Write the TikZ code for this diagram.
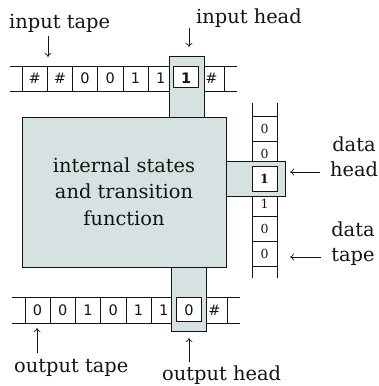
\documentclass[tikz,border=0pt]{standalone}
\usepackage{fontspec}
\setmainfont{DejaVu Serif}
\newfontfamily\cellfont{DejaVu Sans}
\usetikzlibrary{arrows.meta}
\definecolor{headgray}{RGB}{214,226,226}
\definecolor{ink}{RGB}{20,20,20}
\tikzset{
  tapeline/.style={draw=ink, line width=0.8pt},
  headbox/.style={draw=ink, fill=headgray, line width=0.8pt},
  cellbox/.style={draw=ink, fill=white, line width=0.8pt},
  lbl/.style={font=\fontsize{19.4}{25}\selectfont, inner sep=0pt, text=ink},
  celltext/.style={font=\cellfont\fontsize{14.5}{15}\selectfont, inner sep=0pt, text=ink},
  datatext/.style={font=\fontsize{12.5}{13}\selectfont, inner sep=0pt, text=ink},
  pointer/.style={draw=ink, line width=0.7pt, -{To[length=4pt,width=7pt]}}
}
\begin{document}
\begin{tikzpicture}[x=1pt,y=-1pt]
\useasboundingbox[fill=white] (0,0) rectangle (378,386);

% ---------- input tape ----------
\draw[tapeline] (10,66) -- (237,66) (10,91) -- (237,91);
\foreach \k in {0,...,8} \draw[tapeline] ({22+25.25*\k},66) -- ({22+25.25*\k},91);
\path[headbox] (169,56) rectangle (204,117);
\path[cellbox] (173.5,66) rectangle (198.75,87);
\foreach \t [count=\k from 0] in {\#,\#,0,0,1,1,{\bfseries 1},\#}
  \node[celltext] (in\k) at ({34.6+25.25*\k},78.5) {\t};

% ---------- main box ----------
\node[headbox, minimum width=204pt, minimum height=150pt, inner sep=0pt, anchor=north west] (fsm) at (22,117) {};
\node[lbl, font=\fontsize{19.4}{26.5}\selectfont, align=center, anchor=base] (fsmtext) at (124,225) {internal states\\and transition\\function};

% ---------- data tape ----------
\draw[tapeline] (252,103) -- (252,278) (277,103) -- (277,278);
\foreach \k in {0,...,6} \draw[tapeline] (252,{116+25*\k}) -- (277,{116+25*\k});
\foreach \t [count=\k from 0] in {0,0,{\bfseries 1},1,0,0}
  \node[datatext] (dt\k) at (264.5,{128.5+25*\k}) {\t};
\path[headbox] (226,161.7) rectangle (285,196.7);
\path[cellbox] (252,166) rectangle (277,191);
\node[datatext] (dhead) at (264.5,178.5) {\bfseries 1};

% ---------- output tape ----------
\draw[tapeline] (12,297) -- (240,297) (12,323) -- (240,323);
\foreach \k in {0,...,8} \draw[tapeline] ({25+25.25*\k},297) -- ({25+25.25*\k},323);
\path[headbox] (171,267) rectangle (206,331);
\path[cellbox] (176.5,297) rectangle (201.75,321.5);
\foreach \t [count=\k from 0] in {0,0,1,0,1,1,0,\#}
  \node[celltext] (out\k) at ({37.6+25.25*\k},310) {\t};

% ---------- labels ----------
\node[lbl, anchor=base west] (ltape) at (9,28) {input tape};
\node[lbl, anchor=base west] (lhead) at (196,23) {input head};
\node[lbl, align=center, anchor=base] (ldhead) at (354,176) {data\\head};
\node[lbl, align=center, anchor=base] (ldtape) at (353,261) {data\\tape};
\node[lbl, anchor=base west] (lotape) at (14,372) {output tape};
\node[lbl, anchor=base west] (lohead) at (162,380) {output head};

% ---------- pointers ----------
\coordinate (a1) at (48,36);  \coordinate (b1) at (48,57);
\coordinate (a2) at (189,28); \coordinate (b2) at (189,47);
\coordinate (a3) at (320,172); \coordinate (b3) at (290,172);
\coordinate (a4) at (321,257); \coordinate (b4) at (290,257);
\coordinate (a5) at (37,353); \coordinate (b5) at (37,328);
\coordinate (a6) at (189,362); \coordinate (b6) at (189,338);
\foreach \i in {1,...,6} \draw[pointer] (a\i) -- (b\i);
\end{tikzpicture}
\end{document}
